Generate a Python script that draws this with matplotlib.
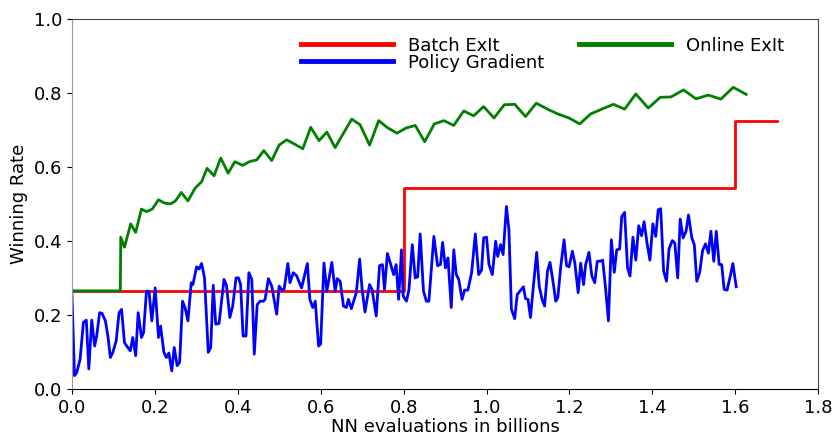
import numpy as np
import matplotlib
matplotlib.use('Agg')
import matplotlib.pyplot as plt

# Batch ExIt: step curve (x where each level starts, level)
batch_x = [0.0, 0.8, 0.8, 1.6, 1.6, 1.70]
batch_y = [0.265, 0.265, 0.542, 0.542, 0.724, 0.724]

# Online ExIt
online_x = [0.0, 0.117, 0.118, 0.127, 0.142, 0.154, 0.168, 0.180, 0.194, 0.209,
            0.224, 0.238, 0.250, 0.264, 0.280, 0.297, 0.313, 0.326, 0.343, 0.359,
            0.377, 0.393, 0.412, 0.428, 0.446, 0.463, 0.482, 0.500, 0.518, 0.538,
            0.557, 0.576, 0.596, 0.615, 0.635, 0.655, 0.675, 0.695, 0.718, 0.740,
            0.761, 0.784, 0.806, 0.828, 0.851, 0.874, 0.897, 0.921, 0.945, 0.969,
            0.993, 1.018, 1.043, 1.068, 1.094, 1.120, 1.147, 1.172, 1.199, 1.225,
            1.251, 1.280, 1.306, 1.333, 1.360, 1.390, 1.419, 1.445, 1.475, 1.505,
            1.535, 1.565, 1.595, 1.626]
online_y = [0.265, 0.265, 0.410, 0.383, 0.446, 0.423, 0.486, 0.479, 0.486, 0.511,
            0.502, 0.500, 0.508, 0.531, 0.508, 0.542, 0.560, 0.596, 0.576, 0.624,
            0.583, 0.614, 0.604, 0.614, 0.619, 0.644, 0.617, 0.659, 0.673, 0.661,
            0.649, 0.707, 0.671, 0.694, 0.652, 0.691, 0.729, 0.714, 0.659, 0.725,
            0.706, 0.691, 0.705, 0.712, 0.668, 0.716, 0.725, 0.712, 0.751, 0.738,
            0.763, 0.732, 0.768, 0.769, 0.736, 0.772, 0.756, 0.743, 0.732, 0.716,
            0.743, 0.757, 0.769, 0.756, 0.797, 0.759, 0.788, 0.789, 0.808, 0.784,
            0.794, 0.783, 0.815, 0.796]

# Policy Gradient
pg_x = [0.000, 0.0065, 0.012, 0.020, 0.028, 0.035, 0.041, 0.048, 0.055, 0.060,
        0.067, 0.073, 0.081, 0.087, 0.093, 0.099, 0.107, 0.114, 0.120, 0.127,
        0.135, 0.141, 0.147, 0.154, 0.160, 0.168, 0.173, 0.180, 0.186, 0.193,
        0.201, 0.209, 0.214, 0.222, 0.228, 0.234, 0.241, 0.247, 0.254, 0.260,
        0.267, 0.273, 0.280, 0.288, 0.292, 0.301, 0.307, 0.313, 0.320, 0.329,
        0.335, 0.341, 0.347, 0.355, 0.367, 0.373, 0.381, 0.388, 0.396, 0.402,
        0.407, 0.413, 0.420, 0.427, 0.434, 0.440, 0.447, 0.454, 0.462, 0.466,
        0.474, 0.482, 0.487, 0.494, 0.500, 0.507, 0.512, 0.521, 0.526, 0.534,
        0.542, 0.554, 0.568, 0.574, 0.581, 0.587, 0.595, 0.600, 0.608, 0.615,
        0.627, 0.635, 0.640, 0.647, 0.655, 0.662, 0.667, 0.674, 0.686, 0.694,
        0.700, 0.707, 0.718, 0.724, 0.734, 0.742, 0.749, 0.754, 0.761, 0.768,
        0.776, 0.782, 0.788, 0.795, 0.799, 0.807, 0.813, 0.821, 0.828, 0.834,
        0.840, 0.848, 0.855, 0.861, 0.873, 0.882, 0.889, 0.894, 0.901, 0.907,
        0.915, 0.921, 0.927, 0.933, 0.941, 0.947, 0.955, 0.964, 0.973, 0.981,
        0.988, 0.993, 1.000, 1.006, 1.014, 1.022, 1.027, 1.034, 1.040, 1.048,
        1.054, 1.060, 1.068, 1.074, 1.084, 1.089, 1.094, 1.100, 1.106, 1.113,
        1.121, 1.127, 1.134, 1.140, 1.147, 1.153, 1.159, 1.167, 1.172, 1.179,
        1.187, 1.193, 1.199, 1.207, 1.213, 1.221, 1.227, 1.234, 1.239, 1.247,
        1.254, 1.261, 1.267, 1.274, 1.280, 1.287, 1.294, 1.301, 1.308, 1.314,
        1.321, 1.326, 1.333, 1.340, 1.346, 1.353, 1.360, 1.367, 1.374, 1.380,
        1.387, 1.394, 1.401, 1.408, 1.414, 1.420, 1.427, 1.434, 1.440, 1.448,
        1.454, 1.461, 1.467, 1.474, 1.481, 1.487, 1.495, 1.501, 1.507, 1.514,
        1.521, 1.528, 1.535, 1.541, 1.548, 1.554, 1.561, 1.567, 1.573, 1.580,
        1.588, 1.594, 1.602]
pg_y = [0.265, 0.036, 0.045, 0.080, 0.180, 0.186, 0.054, 0.186, 0.116, 0.143,
        0.206, 0.204, 0.184, 0.143, 0.085, 0.099, 0.130, 0.206, 0.215, 0.125,
        0.112, 0.103, 0.139, 0.090, 0.206, 0.139, 0.152, 0.264, 0.264, 0.184,
        0.273, 0.139, 0.170, 0.099, 0.085, 0.097, 0.049, 0.112, 0.063, 0.072,
        0.237, 0.220, 0.184, 0.287, 0.282, 0.330, 0.324, 0.339, 0.300, 0.099,
        0.112, 0.280, 0.175, 0.177, 0.296, 0.280, 0.193, 0.224, 0.300, 0.300,
        0.282, 0.143, 0.143, 0.314, 0.296, 0.094, 0.228, 0.237, 0.237, 0.242,
        0.298, 0.278, 0.247, 0.202, 0.278, 0.267, 0.270, 0.339, 0.287, 0.314,
        0.306, 0.273, 0.339, 0.242, 0.220, 0.237, 0.116, 0.121, 0.340, 0.264,
        0.342, 0.264, 0.298, 0.291, 0.224, 0.220, 0.242, 0.217, 0.260, 0.351,
        0.269, 0.208, 0.282, 0.269, 0.197, 0.333, 0.336, 0.269, 0.366, 0.340,
        0.309, 0.336, 0.242, 0.376, 0.251, 0.237, 0.269, 0.390, 0.300, 0.303,
        0.419, 0.264, 0.237, 0.237, 0.412, 0.333, 0.336, 0.396, 0.327, 0.354,
        0.220, 0.376, 0.309, 0.296, 0.242, 0.267, 0.267, 0.314, 0.419, 0.309,
        0.321, 0.408, 0.410, 0.336, 0.309, 0.399, 0.358, 0.390, 0.363, 0.493,
        0.430, 0.215, 0.190, 0.255, 0.269, 0.276, 0.244, 0.242, 0.193, 0.278,
        0.369, 0.278, 0.242, 0.224, 0.318, 0.342, 0.300, 0.237, 0.247, 0.331,
        0.403, 0.333, 0.330, 0.372, 0.340, 0.260, 0.340, 0.282, 0.336, 0.369,
        0.305, 0.287, 0.345, 0.345, 0.348, 0.273, 0.184, 0.403, 0.315, 0.376,
        0.378, 0.466, 0.477, 0.327, 0.305, 0.410, 0.348, 0.441, 0.414, 0.452,
        0.394, 0.348, 0.446, 0.412, 0.484, 0.487, 0.318, 0.291, 0.378, 0.401,
        0.394, 0.300, 0.459, 0.408, 0.426, 0.470, 0.408, 0.390, 0.291, 0.315,
        0.374, 0.392, 0.367, 0.426, 0.345, 0.426, 0.336, 0.336, 0.269, 0.267,
        0.306, 0.339, 0.276]

fig = plt.figure(figsize=(8.35, 4.38), dpi=100)
ax = fig.add_axes([0.086, 0.112, 0.894, 0.845])

l_batch, = ax.plot(batch_x, batch_y, color='red', lw=2.0, label='Batch ExIt')
l_online, = ax.plot(online_x, online_y, color='green', lw=2.0, label='Online ExIt')
l_pg, = ax.plot(pg_x, pg_y, color='blue', lw=2.0, label='Policy Gradient')

ax.set_xlim(0, 1.8)
ax.set_ylim(0, 1.0)
ax.set_xticks(np.arange(0, 1.81, 0.2))
ax.set_yticks(np.arange(0, 1.01, 0.2))
ax.tick_params(labelsize=13)
ax.set_xlabel('NN evaluations in billions', fontsize=13, labelpad=1)
ax.set_ylabel('Winning Rate', fontsize=13)

# spines as in the original: light left, dark bottom
ax.spines['left'].set_color('#999999')
ax.spines['bottom'].set_color('black')
ax.spines['top'].set_color('#444444')
ax.spines['right'].set_color('#444444')

# two columns: Batch + PG on the left, Online on the right
leg = ax.legend([l_batch, l_pg, l_online], ['Batch ExIt', 'Policy Gradient', 'Online ExIt'],
                loc='upper left', bbox_to_anchor=(0.2835, 1.0), ncol=2, frameon=False,
                fontsize=13, handlelength=5.1, labelspacing=-0.05, columnspacing=1.95,
                borderaxespad=0.58)
for line in leg.get_lines():
    line.set_linewidth(3.5)

fig.savefig('out.png', dpi=100)
